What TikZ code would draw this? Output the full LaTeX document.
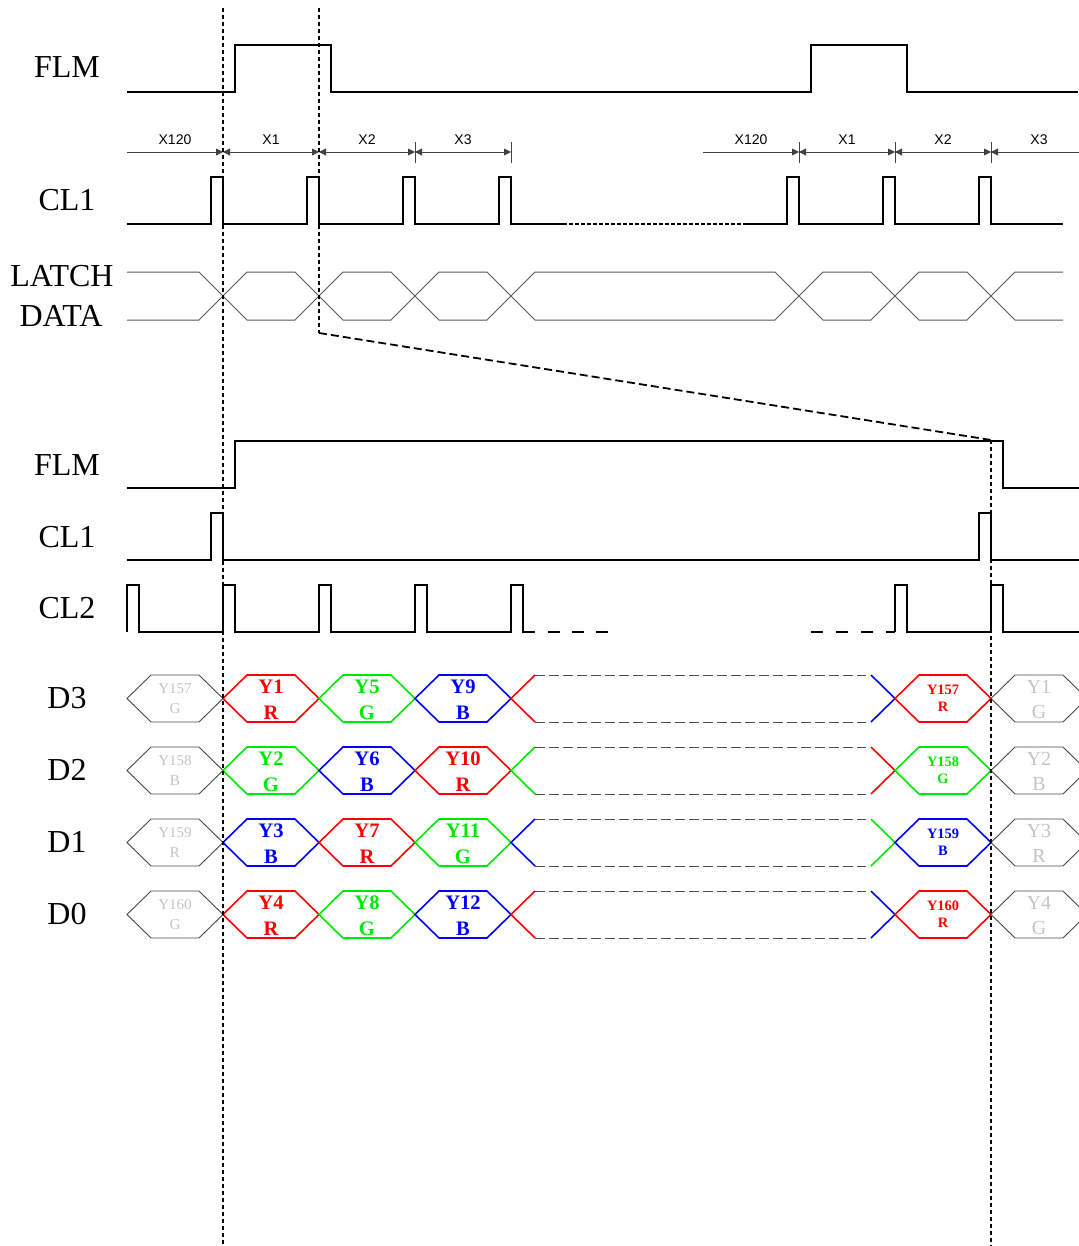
\documentclass[tikz,border=0pt]{standalone}
\usepackage{fontspec}
\setmainfont{Liberation Serif}
\newfontfamily\arialfont{Liberation Sans}
\usetikzlibrary{arrows.meta}

\definecolor{sigred}{RGB}{255,0,0}
\definecolor{siggreen}{RGB}{0,230,0}
\definecolor{sigblue}{RGB}{0,0,255}
\definecolor{ghostline}{RGB}{70,70,70}
\definecolor{ghosttext}{RGB}{195,195,195}

\tikzset{
  wave/.style={line width=1pt},
  latch/.style={line width=0.5pt, draw=black!65},
  marker/.style={line width=0.9pt, dash pattern=on 2pt off 1.5pt},
  zoomline/.style={line width=0.9pt, dash pattern=on 4pt off 2pt},
  siglabel/.style={inner sep=0pt, font=\fontsize{16}{16}\selectfont},
  xlabel/.style={inner sep=0pt, font=\arialfont\fontsize{7}{7}\selectfont},
  dimline/.style={line width=0.4pt, draw=black!75},
  gapline/.style={line width=0.4pt, draw=black!70, dash pattern=on 5pt off 2pt},
  tail/.style={line width=0.8pt},
  % hexagon cell looks
  bigline/.style={line width=0.8pt},
  bigtop/.style={inner sep=0pt, font=\bfseries\fontsize{10.3}{10.3}\selectfont, yshift=6pt},
  bigbot/.style={inner sep=0pt, font=\bfseries\fontsize{10.3}{10.3}\selectfont, yshift=-7pt},
  smallline/.style={line width=0.8pt},
  smalltop/.style={inner sep=0pt, font=\bfseries\fontsize{7.2}{7.2}\selectfont, yshift=4.5pt},
  smallbot/.style={inner sep=0pt, font=\bfseries\fontsize{7.2}{7.2}\selectfont, yshift=-4.25pt},
  ghostlline/.style={line width=0.45pt},
  ghostltop/.style={inner sep=0pt, font=\fontsize{7.5}{7.5}\selectfont, yshift=5pt},
  ghostlbot/.style={inner sep=0pt, font=\fontsize{7.5}{7.5}\selectfont, yshift=-5pt},
  ghostrline/.style={line width=0.45pt},
  ghostrtop/.style={inner sep=0pt, font=\fontsize{10}{10}\selectfont, yshift=6pt},
  ghostrbot/.style={inner sep=0pt, font=\fontsize{10}{10}\selectfont, yshift=-6.5pt},
}

% #1 look, #2 left x, #3 centre y, #4 line colour, #5 text colour, #6 upper, #7 lower, #8 name
\newcommand{\hexcell}[8]{%
  \draw[#1line, #4] (#2,#3) -- ++(24,-23.5) -- ++(48,0) -- ++(24,23.5)
    -- ++(-24,23.5) -- ++(-48,0) -- cycle;
  \node[#1top, text=#5] (#8t) at (#2+48,#3) {#6};
  \node[#1bot, text=#5] (#8b) at (#2+48,#3) {#7};
}

\begin{document}
\begin{tikzpicture}[x=0.5pt, y=-0.5pt, >={Triangle[length=3.5pt,width=3.5pt]}]
  \useasboundingbox (0,0) rectangle (1079,1246);
  \clip (0,0) rectangle (1079,1246);

  % signal names
  \node[siglabel] (flmtop) at (67,67) {FLM};
  \node[siglabel] (clonetop) at (67,200) {CL1};
  \node[siglabel] (latch) at (62,276) {LATCH};
  \node[siglabel] (data) at (61,316) {DATA};
  \node[siglabel] (flmbot) at (67,465) {FLM};
  \node[siglabel] (clonebot) at (67,537) {CL1};
  \node[siglabel] (cltwo) at (67,608) {CL2};
  \node[siglabel] (dthree) at (67,698) {D3};
  \node[siglabel] (dtwo) at (67,770) {D2};
  \node[siglabel] (done) at (67,842) {D1};
  \node[siglabel] (dzero) at (67,914) {D0};

  % frame signal, whole frame
  \draw[wave] (127,92) -- (235,92) -- (235,45) -- (331,45) -- (331,92) -- (811,92)
    -- (811,45) -- (907,45) -- (907,92) -- (1078,92);

  % line periods
  \draw[dimline,->] (127,152) -- (223,152);
  \draw[dimline,<->] (223,152) -- (319,152);
  \draw[dimline,<->] (319,152) -- (415,152);
  \draw[dimline,<->] (415,152) -- (511,152);
  \draw[dimline,->] (703,152) -- (799,152);
  \draw[dimline,<->] (799,152) -- (895,152);
  \draw[dimline,<->] (895,152) -- (991,152);
  \draw[dimline,<-] (991,152) -- (1079,152);
  % routine for ticks
  \foreach \x in {415,511,799,895,991}
    \draw[dimline] (\x,142) -- (\x,163);
  \node[xlabel] (xa) at (175,140) {X120};
  \node[xlabel] (xb) at (271,140) {X1};
  \node[xlabel] (xc) at (367,140) {X2};
  \node[xlabel] (xd) at (463,140) {X3};
  \node[xlabel] (xe) at (751,140) {X120};
  \node[xlabel] (xf) at (847,140) {X1};
  \node[xlabel] (xg) at (943,140) {X2};
  \node[xlabel] (xh) at (1039,140) {X3};

  % line clock, whole frame
  \draw[wave] (127,224) \foreach \x in {211,307,403,499} {
      -- (\x,224) -- (\x,177) -- (\x+12,177) -- (\x+12,224) } -- (563,224);
  \draw[wave, line width=0.8pt, dash pattern=on 2pt off 1pt] (563,224) -- (745,224);
  \draw[wave] (745,224) \foreach \x in {787,883,979} {
      -- (\x,224) -- (\x,177) -- (\x+12,177) -- (\x+12,224) } -- (1063,224);

  % latch data
  \draw[latch] (127,272) -- (199,272) -- (223,296) -- (199,320) -- (127,320);
  \foreach \a/\b in {223/319, 319/415, 415/511, 511/799, 799/895, 895/991}
    \draw[latch] (\a,296) -- (\a+24,272) -- (\b-24,272) -- (\b,296)
      -- (\b-24,320) -- (\a+24,320) -- cycle;
  \draw[latch] (1063,272) -- (1015,272) -- (991,296) -- (1015,320) -- (1063,320);

  % one line, zoomed
  \draw[wave] (127,488) -- (235,488) -- (235,441) -- (1003,441) -- (1003,488) -- (1079,488);
  \draw[wave] (127,560) -- (211,560) -- (211,513) -- (223,513) -- (223,560) -- (979,560)
    -- (979,513) -- (991,513) -- (991,560) -- (1079,560);
  \draw[wave] (127,632) -- (127,585) -- (139,585) -- (139,632) \foreach \x in {223,319,415,511} {
      -- (\x,632) -- (\x,585) -- (\x+12,585) -- (\x+12,632) } -- (535,632);
  \draw[wave, dash pattern=on 6pt off 6pt] (548,632) -- (608,632);
  \draw[wave, dash pattern=on 6pt off 6.5pt] (811,632) -- (895,632);
  \draw[wave] (895,632) -- (895,585) -- (907,585) -- (907,632) -- (991,632) -- (991,585)
    -- (1003,585) -- (1003,632) -- (1079,632);

  % D3
  \hexcell{ghostl}{127}{698.5}{ghostline}{ghosttext}{Y157}{G}{dthreea}
  \hexcell{big}{223}{698.5}{sigred}{sigred}{Y1}{R}{dthreeb}
  \hexcell{big}{319}{698.5}{siggreen}{siggreen}{Y5}{G}{dthreec}
  \hexcell{big}{415}{698.5}{sigblue}{sigblue}{Y9}{B}{dthreed}
  \draw[tail, sigred] (535,675) -- (511,698.5) -- (535,722);
  \draw[gapline] (535,675) -- (866,675);
  \draw[gapline] (535,722) -- (866,722);
  \draw[tail, sigblue] (871,675) -- (895,698.5) -- (871,722);
  \hexcell{small}{895}{698.5}{sigred}{sigred}{Y157}{R}{dthreee}
  \hexcell{ghostr}{991}{698.5}{ghostline}{ghosttext}{Y1}{G}{dthreef}

  % D2
  \hexcell{ghostl}{127}{770.5}{ghostline}{ghosttext}{Y158}{B}{dtwoa}
  \hexcell{big}{223}{770.5}{siggreen}{siggreen}{Y2}{G}{dtwob}
  \hexcell{big}{319}{770.5}{sigblue}{sigblue}{Y6}{B}{dtwoc}
  \hexcell{big}{415}{770.5}{sigred}{sigred}{Y10}{R}{dtwod}
  \draw[tail, siggreen] (535,747) -- (511,770.5) -- (535,794);
  \draw[gapline] (535,747) -- (866,747);
  \draw[gapline] (535,794) -- (866,794);
  \draw[tail, sigred] (871,747) -- (895,770.5) -- (871,794);
  \hexcell{small}{895}{770.5}{siggreen}{siggreen}{Y158}{G}{dtwoe}
  \hexcell{ghostr}{991}{770.5}{ghostline}{ghosttext}{Y2}{B}{dtwof}

  % D1
  \hexcell{ghostl}{127}{842.5}{ghostline}{ghosttext}{Y159}{R}{donea}
  \hexcell{big}{223}{842.5}{sigblue}{sigblue}{Y3}{B}{doneb}
  \hexcell{big}{319}{842.5}{sigred}{sigred}{Y7}{R}{donec}
  \hexcell{big}{415}{842.5}{siggreen}{siggreen}{Y11}{G}{doned}
  \draw[tail, sigblue] (535,819) -- (511,842.5) -- (535,866);
  \draw[gapline] (535,819) -- (866,819);
  \draw[gapline] (535,866) -- (866,866);
  \draw[tail, siggreen] (871,819) -- (895,842.5) -- (871,866);
  \hexcell{small}{895}{842.5}{sigblue}{sigblue}{Y159}{B}{donee}
  \hexcell{ghostr}{991}{842.5}{ghostline}{ghosttext}{Y3}{R}{donef}

  % D0
  \hexcell{ghostl}{127}{914.5}{ghostline}{ghosttext}{Y160}{G}{dzeroa}
  \hexcell{big}{223}{914.5}{sigred}{sigred}{Y4}{R}{dzerob}
  \hexcell{big}{319}{914.5}{siggreen}{siggreen}{Y8}{G}{dzeroc}
  \hexcell{big}{415}{914.5}{sigblue}{sigblue}{Y12}{B}{dzerod}
  \draw[tail, sigred] (535,891) -- (511,914.5) -- (535,938);
  \draw[gapline] (535,891) -- (866,891);
  \draw[gapline] (535,938) -- (866,938);
  \draw[tail, sigblue] (871,891) -- (895,914.5) -- (871,938);
  \hexcell{small}{895}{914.5}{sigred}{sigred}{Y160}{R}{dzeroe}
  \hexcell{ghostr}{991}{914.5}{ghostline}{ghosttext}{Y4}{G}{dzerof}

  % markers
  \draw[marker] (223,8) -- (223,1246);
  \draw[marker] (319,8) -- (319,333);
  \draw[zoomline] (319,333) -- (991,440);
  \draw[marker] (991,440) -- (991,1246);
\end{tikzpicture}
\end{document}
